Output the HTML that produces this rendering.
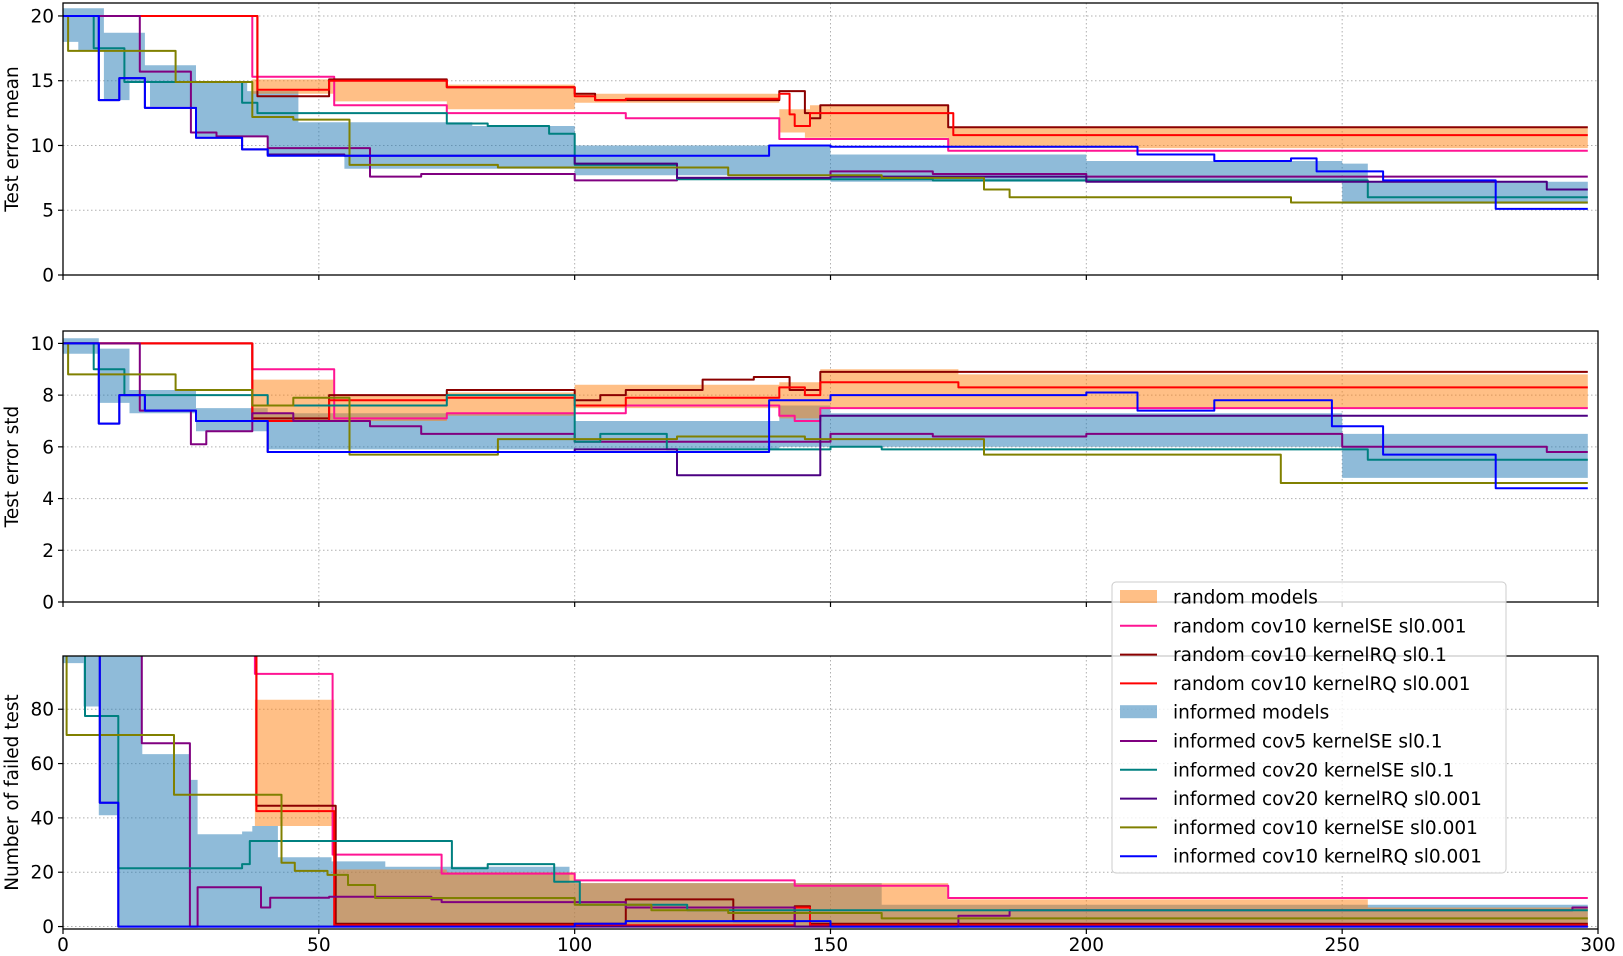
<!DOCTYPE html>
<html><head><meta charset="utf-8"><style>
body{margin:0;background:#fff;}
svg{display:block;font-family:"DejaVu Sans","Liberation Sans",sans-serif;}
</style></head><body>
<svg id="chart" width="1623" height="956" viewBox="0 0 1623 956" xmlns="http://www.w3.org/2000/svg"></svg>
<script>
// ---------- data ----------
const xTicks = [0,50,100,150,200,250,300];
const meanTicks = [0,5,10,15,20];
const stdTicks = [0,2,4,6,8,10];
const failTicks = [0,20,40,60,80];
const seriesNames = ["random cov10 kernelSE sl0.001","random cov10 kernelRQ sl0.1","random cov10 kernelRQ sl0.001","informed cov5 kernelSE sl0.1","informed cov20 kernelSE sl0.1","informed cov20 kernelRQ sl0.001","informed cov10 kernelSE sl0.001","informed cov10 kernelRQ sl0.001"];
const seriesColors = ["#ff1493","#8b0000","#ff0000","#800080","#008080","#4b0082","#808000","#0000ff"];

// panel 1: test error mean (step points [x, y])
const meanRandLo = [[37,14],[53,13.4],[75,12.8],[100,13.3],[140,11.0],[145,10.6],[173,9.8]];
const meanRandHi = [[37,15.1],[75,14.7],[100,14.0],[140,12.8],[146,13.1],[173,11.4]];
const meanInfLo = [[0,18],[3,17.3],[8,13.5],[13,14.9],[17,13],[26,10.7],[40,9.3],[55,8.2],[100,7.7],[150,7.2],[250,5.5]];
const meanInfHi = [[0,20.6],[8,18.7],[16,16.2],[26,14.9],[36,14.2],[46,11.8],[80,11.5],[100,10.0],[150,9.3],[200,8.8],[250,8.6],[255,7.2]];
const meanPink = [[0,20],[37,15.3],[53,13.1],[75,12.5],[110,12.1],[140,10.5],[173,9.6]];
const meanDarkRed = [[0,20],[38,13.8],[52,15.1],[75,14.5],[100,14.0],[104,13.5],[140,14.2],[145,12.5],[146,12.1],[148,13.1],[173,11.4]];
const meanRed = [[0,20],[38,14.3],[52,15.0],[75,14.5],[100,13.8],[104,13.5],[110,13.6],[140,14.0],[142,12.4],[143,11.5],[146,12.5],[174,10.8]];
const meanPurple = [[0,20],[15,15.7],[25,11.0],[30,10.7],[40,9.8],[60,7.6],[70,7.8],[100,7.3],[120,7.5],[150,8.0],[170,7.8],[200,7.6]];
const meanTeal = [[0,20],[6,17.5],[12,14.9],[35,13.3],[38,12.5],[75,11.7],[83,11.5],[95,10.9],[100,8.5],[120,7.4],[170,7.3],[255,6.0]];
const meanIndigo = [[0,20],[7,13.5],[11,15.2],[16,12.9],[26,10.6],[35,9.7],[40,9.3],[55,9.2],[100,8.6],[120,7.5],[150,7.6],[200,7.2],[290,6.6]];
const meanOlive = [[0,20],[1,17.3],[22,14.9],[37,12.2],[45,12.0],[56,8.5],[85,8.3],[130,7.7],[160,7.5],[180,6.6],[185,6.0],[240,5.6]];
const meanBlue = [[0,20],[7,13.5],[11,15.2],[16,12.9],[26,10.6],[35,9.7],[40,9.2],[138,10.0],[150,9.9],[210,9.3],[225,8.8],[240,9.0],[245,8.0],[258,7.3],[280,5.1]];

// panel 2: test error std
const stdRandLo = [[37,7.0],[75,7.2],[100,7.5],[140,7.1],[148,7.5]];
const stdRandHi = [[37,8.6],[53,8.0],[75,8.1],[100,8.4],[140,8.5],[148,9.0],[175,8.8]];
const stdInfLo = [[0,9.6],[7,7.7],[13,7.3],[26,6.6],[40,5.9],[140,6.0],[250,4.8]];
const stdInfHi = [[0,10.2],[7,9.8],[13,8.2],[26,7.5],[40,7.3],[100,7.0],[140,7.6],[150,7.3],[250,6.5]];
const stdPink = [[0,10],[37,9.0],[53,7.1],[75,7.3],[110,7.6],[140,7.2],[143,7.0],[148,7.5]];
const stdDarkRed = [[0,10],[37,7.1],[52,8.0],[75,8.2],[100,7.8],[105,8.0],[110,8.2],[125,8.6],[135,8.7],[142,8.2],[148,8.9]];
const stdRed = [[0,10],[37,7.0],[52,7.8],[75,7.9],[100,7.6],[110,7.9],[140,8.3],[145,8.0],[148,8.5],[175,8.3]];
const stdPurple = [[0,10],[15,7.4],[25,6.1],[28,6.6],[37,7.3],[45,7.0],[60,6.8],[70,6.5],[100,6.2],[150,6.5],[170,6.4],[200,6.5],[250,6.0],[290,5.8]];
const stdTeal = [[0,10],[6,9.0],[12,8.0],[40,7.6],[75,8.0],[100,6.2],[105,6.5],[118,5.9],[150,6.0],[160,5.9],[255,5.5]];
const stdIndigo = [[0,10],[7,6.9],[11,8.0],[16,7.4],[26,7.0],[40,5.8],[100,5.9],[120,4.9],[148,7.2]];
const stdOlive = [[0,10],[1,8.8],[22,8.2],[37,7.6],[45,7.9],[56,5.7],[85,6.3],[120,6.4],[145,6.3],[180,5.7],[238,4.6]];
const stdBlue = [[0,10],[7,6.9],[11,8.0],[16,7.4],[26,7.0],[40,5.8],[138,7.8],[150,8.0],[200,8.1],[210,7.4],[225,7.8],[248,6.8],[258,5.7],[280,4.4]];

// panel 3: number of failed tests
const failRandLo = [[37.5,37],[53,0]];
const failRandHi = [[37.5,83.5],[53,21],[75,20],[100,16],[173,10],[255,7]];
const failInfLo = [[0,97],[4,81],[7,41],[11,0]];
const failInfHi = [[0,100],[15.5,63.5],[24.8,54],[26.3,34],[35,35],[37,37],[42,25.5],[52.5,24],[63,22],[99,16],[160,8]];
const failPink = [[0,100],[37.5,93],[52.7,26.5],[74,19.5],[100,17],[143,15],[173,10.5]];
const failDarkRed = [[0,100],[37.8,44.5],[53.3,1],[110,10],[131,2],[143,7.5],[146,1]];
const failRed = [[0,100],[37.8,42.5],[53,0.5],[143,7],[146,0.5]];
const failPurple = [[0,100],[15.4,67.5],[24.8,0],[26.3,14.5],[38.7,7],[40.5,10.6],[52,11],[72,10],[74,9],[110,7],[143,0],[175,4],[185,6],[295,7]];
const failTeal = [[0,100],[4.3,77.5],[10.8,21.5],[35,23],[36.5,31.5],[76,21.5],[83,23],[96,16.5],[101,8],[122,6]];
const failIndigo = [[0,100],[7.2,45.6],[10.8,0]];
const failOlive = [[0,100],[0.7,70.5],[21.7,48.5],[42.7,23.5],[45.3,20.5],[51.7,19],[55.7,15.3],[61,10.5],[100,8],[115,6],[130,5],[160,3]];
const failBlue = [[0,100],[7.2,45.6],[10.8,0],[100,1],[110,2],[150,0]];

const xEnd = 298;
// ---------- drawing ----------
const NS = "http://www.w3.org/2000/svg";
const svg = document.getElementById('chart');
function mk(tag, attrs, parent){const e=document.createElementNS(NS,tag);for(const k in attrs)e.setAttribute(k,attrs[k]);(parent||svg).appendChild(e);return e;}
const L=63, R=1598;
const xs = v => L + (v/300)*(R-L);
function stepAt(arr,x){let v=null;for(const p of arr){if(p[0]<=x)v=p[1];}return v;}
function linePath(arr,ys){let d='';for(let i=0;i<arr.length;i++){const x0=xs(arr[i][0]),y=ys(arr[i][1]);const x1=xs(i+1<arr.length?arr[i+1][0]:xEnd);d+=(i===0?'M':'L')+x0.toFixed(1)+','+y.toFixed(1)+'L'+x1.toFixed(1)+','+y.toFixed(1);}return d;}
function bandPath(lo,hi,ys){const bp=[...new Set([...lo.map(p=>p[0]),...hi.map(p=>p[0])])].filter(x=>x>=Math.max(lo[0][0],hi[0][0])).sort((a,b)=>a-b);const top=[],bot=[];for(let i=0;i<bp.length;i++){const x0=bp[i],x1=i+1<bp.length?bp[i+1]:xEnd;const h=stepAt(hi,x0),l=stepAt(lo,x0);top.push([xs(x0),ys(h)],[xs(x1),ys(h)]);bot.push([xs(x0),ys(l)],[xs(x1),ys(l)]);}const pts=top.concat(bot.reverse());return 'M'+pts.map(p=>p[0].toFixed(1)+','+p[1].toFixed(1)).join('L')+'Z';}

const panels=[
 {name:'mean',top:3,bot:275,y0:0,y1:21,ticks:meanTicks,label:'Test error mean',randLo:meanRandLo,randHi:meanRandHi,infLo:meanInfLo,infHi:meanInfHi,lines:[meanPink,meanDarkRed,meanRed,meanPurple,meanTeal,meanIndigo,meanOlive,meanBlue],xlabels:false},
 {name:'std',top:331,bot:602,y0:0,y1:10.48,ticks:stdTicks,label:'Test error std',randLo:stdRandLo,randHi:stdRandHi,infLo:stdInfLo,infHi:stdInfHi,lines:[stdPink,stdDarkRed,stdRed,stdPurple,stdTeal,stdIndigo,stdOlive,stdBlue],xlabels:false},
 {name:'failed',top:656,bot:929,y0:-0.9,y1:99.6,ticks:failTicks,label:'Number of failed test',randLo:failRandLo,randHi:failRandHi,infLo:failInfLo,infHi:failInfHi,lines:[failPink,failDarkRed,failRed,failPurple,failTeal,failIndigo,failOlive,failBlue],xlabels:true}
];
const defs=mk('defs',{});
panels.forEach((P,pi)=>{
 const ys=v=>P.bot-(v-P.y0)/(P.y1-P.y0)*(P.bot-P.top);
 const g=mk('g',{});
 
 
 const cp=mk('clipPath',{id:'clip'+pi},defs);mk('rect',{x:L,y:P.top,width:R-L,height:P.bot-P.top},cp);
 // grid
 xTicks.forEach(t=>{const l=mk('line',{x1:xs(t),x2:xs(t),y1:P.top,y2:P.bot,stroke:'#b0b0b0','stroke-width':1,'stroke-dasharray':'1.5,2.5'},g);});
 P.ticks.forEach(t=>{const l=mk('line',{x1:L,x2:R,y1:ys(t),y2:ys(t),stroke:'#b0b0b0','stroke-width':1,'stroke-dasharray':'1.5,2.5'},g);});
 const dg=mk('g',{'clip-path':'url(#clip'+pi+')'},g);
 const ib=mk('path',{d:bandPath(P.infLo,P.infHi,ys),fill:'#1f77b4','fill-opacity':0.5},dg);
 
 const rb=mk('path',{d:bandPath(P.randLo,P.randHi,ys),fill:'#ff7f0e','fill-opacity':0.5},dg);
 
 P.lines.forEach((arr,i)=>{const p=mk('path',{d:linePath(arr,ys),fill:'none',stroke:seriesColors[i],'stroke-width':2,'stroke-linejoin':'round'},dg);
  
  });
 // frame
 const fr=mk('rect',{x:L,y:P.top,width:R-L,height:P.bot-P.top,fill:'none',stroke:'#000','stroke-width':1.3},g);
 
 P.ticks.forEach(t=>{mk('line',{x1:L-5,x2:L,y1:ys(t),y2:ys(t),stroke:'#000','stroke-width':1.2},g);
  const tx=mk('text',{x:L-9,y:ys(t)+6.5,'text-anchor':'end','font-size':18.5,fill:'#000'},g);tx.textContent=t;
  });
 xTicks.forEach(t=>{mk('line',{x1:xs(t),x2:xs(t),y1:P.bot,y2:P.bot+5,stroke:'#000','stroke-width':1.2},g);
  if(P.xlabels){const tx=mk('text',{x:xs(t),y:P.bot+22,'text-anchor':'middle','font-size':18.5,fill:'#000'},g);tx.textContent=t;
  }});
 const cy=(P.top+P.bot)/2;
 const yl=mk('text',{x:0,y:0,transform:'translate(18,'+cy+') rotate(-90)','text-anchor':'middle','font-size':18.5,fill:'#000'},g);
 yl.textContent=P.label;
});
// legend
const lg=mk('g',{});

mk('rect',{x:1112,y:582,width:394,height:291,rx:4,fill:'#fff','fill-opacity':0.8,stroke:'#cccccc'},lg);
const legendItems=[{t:'random models',patch:'#ff7f0e'},{t:seriesNames[0],c:seriesColors[0]},{t:seriesNames[1],c:seriesColors[1]},{t:seriesNames[2],c:seriesColors[2]},{t:'informed models',patch:'#1f77b4'},{t:seriesNames[3],c:seriesColors[3]},{t:seriesNames[4],c:seriesColors[4]},{t:seriesNames[5],c:seriesColors[5]},{t:seriesNames[6],c:seriesColors[6]},{t:seriesNames[7],c:seriesColors[7]}];
legendItems.forEach((it,i)=>{const cy=597+i*28.8;
 const e=mk('g',{},lg);
 if(it.patch)mk('rect',{x:1120,y:cy-7,width:37,height:13,fill:it.patch,'fill-opacity':0.5},e);
 else mk('line',{x1:1120,x2:1157,y1:cy,y2:cy,stroke:it.c,'stroke-width':2},e);
 const tx=mk('text',{x:1173,y:cy+6.5,'font-size':18.5,fill:'#000'},e);tx.textContent=it.t;});
</script>
</body></html>
